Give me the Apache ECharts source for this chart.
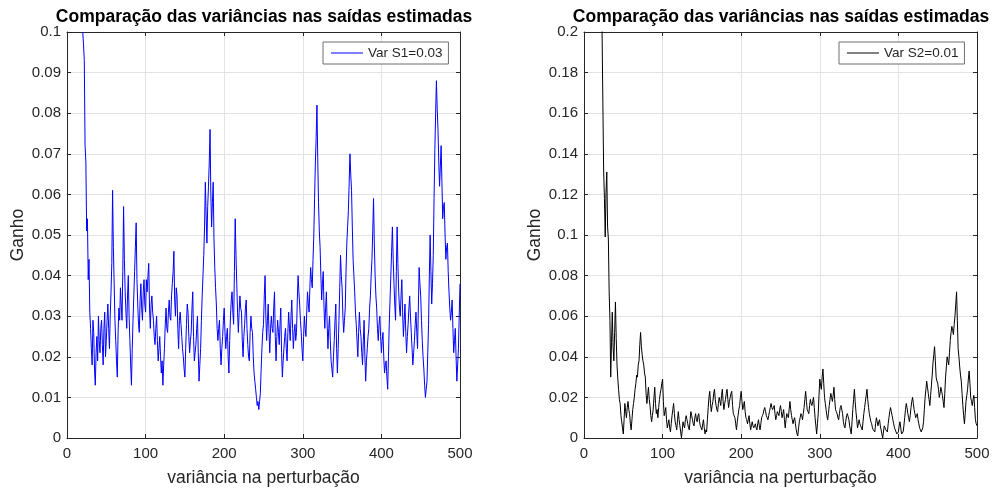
<!DOCTYPE html>
<html>
<head>
<meta charset="utf-8">
<title>Comparação das variâncias</title>
<script src="https://cdn.jsdelivr.net/npm/echarts@6/dist/echarts.min.js"></script>
<style>
  html, body { margin: 0; padding: 0; background: #fff; }
  #chart { width: 997px; height: 493px; }
</style>
</head>
<body>
<div id="chart"></div>
<script>
// eixo x: variância na perturbação (uma amostra por unidade)
var X_STEP = 1;
var S1_START = 20;
var S2_START = 21;
var xTicks = [0, 100, 200, 300, 400, 500];

var titleText = 'Comparação das variâncias nas saídas estimadas';
var xName = 'variância na perturbação';
var yName = 'Ganho';
var legendNames = ['Var S1=0.03', 'Var S2=0.01'];

// ganho estimado, saída 1 (x = 20 ... 500, uma linha a cada 10)
var s1 = [
  0.100, 0.097, 0.093, 0.072, 0.068, 0.051, 0.054, 0.039, 0.044, 0.031,
  0.027, 0.022, 0.018, 0.029, 0.026, 0.017, 0.013, 0.021, 0.025, 0.019,
  0.030, 0.024, 0.021, 0.027, 0.029, 0.023, 0.018, 0.027, 0.031, 0.020,
  0.024, 0.029, 0.033, 0.027, 0.022, 0.030, 0.036, 0.043, 0.061, 0.047,
  0.038, 0.029, 0.024, 0.019, 0.015, 0.026, 0.032, 0.029, 0.037, 0.033,
  0.029, 0.041, 0.057, 0.044, 0.036, 0.031, 0.027, 0.035, 0.040, 0.030,
  0.024, 0.018, 0.013, 0.022, 0.029, 0.035, 0.041, 0.047, 0.053, 0.039,
  0.033, 0.028, 0.026, 0.034, 0.038, 0.032, 0.029, 0.036, 0.039, 0.033,
  0.031, 0.039, 0.036, 0.040, 0.043, 0.032, 0.027, 0.033, 0.035, 0.031,
  0.029, 0.025, 0.023, 0.027, 0.030, 0.024, 0.019, 0.022, 0.025, 0.020,
  0.016, 0.019, 0.013, 0.018, 0.022, 0.028, 0.032, 0.027, 0.026, 0.031,
  0.034, 0.030, 0.029, 0.035, 0.038, 0.041, 0.046, 0.034, 0.030, 0.037,
  0.035, 0.027, 0.022, 0.029, 0.031, 0.028, 0.025, 0.022, 0.020, 0.017,
  0.015, 0.022, 0.028, 0.033, 0.031, 0.025, 0.021, 0.024, 0.026, 0.032,
  0.036, 0.025, 0.019, 0.021, 0.023, 0.027, 0.030, 0.021, 0.014, 0.018,
  0.022, 0.029, 0.035, 0.040, 0.045, 0.052, 0.063, 0.055, 0.048, 0.057,
  0.062, 0.068, 0.076, 0.060, 0.052, 0.058, 0.063, 0.049, 0.042, 0.037,
  0.033, 0.027, 0.024, 0.027, 0.029, 0.022, 0.018, 0.022, 0.025, 0.029,
  0.032, 0.026, 0.022, 0.025, 0.027, 0.020, 0.016, 0.024, 0.030, 0.034,
  0.036, 0.031, 0.028, 0.041, 0.054, 0.045, 0.038, 0.031, 0.026, 0.031,
  0.035, 0.032, 0.031, 0.024, 0.020, 0.025, 0.028, 0.032, 0.034, 0.027,
  0.023, 0.020, 0.019, 0.026, 0.030, 0.027, 0.026, 0.020, 0.016, 0.014,
  0.012, 0.010, 0.008, 0.009, 0.007, 0.009, 0.011, 0.017, 0.022, 0.026,
  0.028, 0.035, 0.040, 0.030, 0.024, 0.029, 0.033, 0.026, 0.021, 0.027,
  0.030, 0.027, 0.026, 0.032, 0.036, 0.025, 0.019, 0.025, 0.029, 0.026,
  0.023, 0.028, 0.032, 0.021, 0.015, 0.019, 0.022, 0.025, 0.027, 0.022,
  0.019, 0.026, 0.031, 0.027, 0.024, 0.030, 0.034, 0.027, 0.022, 0.026,
  0.028, 0.024, 0.026, 0.034, 0.040, 0.036, 0.033, 0.029, 0.026, 0.022,
  0.019, 0.025, 0.030, 0.027, 0.025, 0.031, 0.036, 0.033, 0.031, 0.037,
  0.042, 0.039, 0.037, 0.044, 0.050, 0.059, 0.068, 0.074, 0.082, 0.069,
  0.058, 0.051, 0.047, 0.040, 0.034, 0.038, 0.041, 0.032, 0.027, 0.032,
  0.036, 0.028, 0.022, 0.027, 0.030, 0.024, 0.019, 0.017, 0.015, 0.020,
  0.024, 0.029, 0.033, 0.022, 0.016, 0.022, 0.029, 0.037, 0.045, 0.040,
  0.037, 0.030, 0.026, 0.029, 0.032, 0.041, 0.048, 0.052, 0.056, 0.063,
  0.070, 0.065, 0.061, 0.052, 0.044, 0.040, 0.036, 0.031, 0.028, 0.024,
  0.020, 0.026, 0.031, 0.027, 0.025, 0.021, 0.018, 0.024, 0.029, 0.020,
  0.014, 0.019, 0.022, 0.025, 0.027, 0.032, 0.035, 0.040, 0.044, 0.051,
  0.059, 0.048, 0.040, 0.035, 0.032, 0.027, 0.024, 0.028, 0.030, 0.025,
  0.021, 0.024, 0.026, 0.020, 0.016, 0.018, 0.019, 0.015, 0.012, 0.020,
  0.028, 0.034, 0.040, 0.046, 0.052, 0.044, 0.038, 0.033, 0.029, 0.041,
  0.052, 0.043, 0.036, 0.032, 0.030, 0.035, 0.039, 0.031, 0.025, 0.029,
  0.033, 0.026, 0.021, 0.025, 0.028, 0.032, 0.035, 0.030, 0.026, 0.022,
  0.018, 0.021, 0.024, 0.028, 0.031, 0.026, 0.022, 0.032, 0.042, 0.038,
  0.035, 0.029, 0.024, 0.020, 0.017, 0.013, 0.010, 0.012, 0.014, 0.021,
  0.028, 0.040, 0.050, 0.041, 0.033, 0.038, 0.045, 0.059, 0.071, 0.080,
  0.088, 0.081, 0.076, 0.068, 0.062, 0.067, 0.072, 0.063, 0.054, 0.057,
  0.058, 0.050, 0.044, 0.047, 0.048, 0.041, 0.036, 0.032, 0.029, 0.031,
  0.034, 0.027, 0.021, 0.024, 0.027, 0.020, 0.014, 0.018, 0.022, 0.030,
  0.038
];

// ganho estimado, saída 2 (x = 21 ... 500, uma linha a cada 10)
var s2 = [
  0.215, 0.208, 0.200, 0.165, 0.132, 0.118, 0.099, 0.121, 0.131, 0.104,
  0.098, 0.072, 0.058, 0.030, 0.047, 0.062, 0.045, 0.038, 0.052, 0.067,
  0.049, 0.036, 0.029, 0.024, 0.019, 0.017, 0.011, 0.008, 0.005, 0.002,
  0.009, 0.017, 0.013, 0.010, 0.015, 0.018, 0.014, 0.012, 0.007, 0.004,
  0.009, 0.014, 0.017, 0.020, 0.024, 0.027, 0.031, 0.030, 0.036, 0.038,
  0.046, 0.052, 0.045, 0.041, 0.038, 0.036, 0.032, 0.030, 0.022, 0.017,
  0.021, 0.025, 0.019, 0.016, 0.011, 0.008, 0.011, 0.014, 0.020, 0.025,
  0.017, 0.012, 0.014, 0.010, 0.015, 0.019, 0.022, 0.024, 0.027, 0.029,
  0.018, 0.011, 0.013, 0.015, 0.009, 0.005, 0.007, 0.009, 0.005, 0.003,
  0.007, 0.011, 0.014, 0.017, 0.012, 0.008, 0.006, 0.004, 0.009, 0.013,
  0.009, 0.006, 0.003, 0.000, 0.004, 0.008, 0.006, 0.005, 0.009, 0.011,
  0.009, 0.007, 0.005, 0.004, 0.009, 0.013, 0.011, 0.009, 0.007, 0.006,
  0.010, 0.012, 0.009, 0.008, 0.011, 0.012, 0.008, 0.006, 0.005, 0.004,
  0.007, 0.009, 0.005, 0.002, 0.004, 0.003, 0.009, 0.015, 0.020, 0.023,
  0.017, 0.013, 0.016, 0.018, 0.022, 0.024, 0.019, 0.016, 0.014, 0.013,
  0.017, 0.020, 0.018, 0.016, 0.021, 0.024, 0.018, 0.014, 0.017, 0.019,
  0.022, 0.024, 0.019, 0.015, 0.018, 0.020, 0.022, 0.023, 0.016, 0.012,
  0.011, 0.010, 0.007, 0.004, 0.008, 0.011, 0.014, 0.016, 0.020, 0.023,
  0.018, 0.014, 0.016, 0.018, 0.013, 0.010, 0.009, 0.007, 0.009, 0.011,
  0.007, 0.004, 0.006, 0.008, 0.006, 0.005, 0.006, 0.007, 0.005, 0.004,
  0.007, 0.009, 0.006, 0.004, 0.007, 0.010, 0.011, 0.012, 0.014, 0.015,
  0.013, 0.011, 0.010, 0.009, 0.011, 0.013, 0.015, 0.017, 0.015, 0.014,
  0.015, 0.016, 0.012, 0.009, 0.011, 0.013, 0.012, 0.011, 0.014, 0.016,
  0.013, 0.010, 0.012, 0.014, 0.009, 0.005, 0.009, 0.012, 0.011, 0.010,
  0.014, 0.018, 0.014, 0.011, 0.009, 0.007, 0.009, 0.010, 0.007, 0.004,
  0.002, 0.001, 0.005, 0.008, 0.010, 0.012, 0.011, 0.009, 0.012, 0.015,
  0.019, 0.023, 0.018, 0.014, 0.013, 0.012, 0.016, 0.019, 0.017, 0.016,
  0.018, 0.020, 0.015, 0.010, 0.006, 0.002, 0.007, 0.012, 0.021, 0.029,
  0.026, 0.024, 0.030, 0.034, 0.027, 0.020, 0.017, 0.014, 0.011, 0.009,
  0.012, 0.016, 0.019, 0.022, 0.020, 0.018, 0.021, 0.025, 0.019, 0.014,
  0.013, 0.012, 0.010, 0.009, 0.012, 0.015, 0.016, 0.016, 0.012, 0.008,
  0.006, 0.005, 0.008, 0.011, 0.012, 0.012, 0.009, 0.006, 0.004, 0.002,
  0.008, 0.014, 0.019, 0.024, 0.018, 0.013, 0.009, 0.005, 0.007, 0.009,
  0.007, 0.006, 0.005, 0.004, 0.008, 0.012, 0.015, 0.018, 0.021, 0.024,
  0.019, 0.015, 0.012, 0.010, 0.008, 0.007, 0.005, 0.004, 0.004, 0.003,
  0.007, 0.010, 0.008, 0.006, 0.008, 0.009, 0.006, 0.004, 0.002, 0.000,
  0.003, 0.006, 0.005, 0.004, 0.004, 0.003, 0.007, 0.010, 0.013, 0.015,
  0.013, 0.011, 0.009, 0.007, 0.005, 0.004, 0.003, 0.002, 0.002, 0.003,
  0.006, 0.008, 0.005, 0.002, 0.002, 0.003, 0.006, 0.010, 0.014, 0.017,
  0.015, 0.012, 0.010, 0.008, 0.011, 0.015, 0.018, 0.020, 0.017, 0.014,
  0.012, 0.010, 0.011, 0.012, 0.009, 0.007, 0.005, 0.004, 0.003, 0.003,
  0.005, 0.008, 0.014, 0.020, 0.024, 0.028, 0.025, 0.022, 0.019, 0.016,
  0.021, 0.026, 0.031, 0.037, 0.041, 0.045, 0.038, 0.030, 0.028, 0.027,
  0.024, 0.020, 0.022, 0.025, 0.023, 0.021, 0.018, 0.015, 0.022, 0.030,
  0.035, 0.040, 0.038, 0.036, 0.042, 0.048, 0.052, 0.055, 0.053, 0.051,
  0.056, 0.060, 0.066, 0.072, 0.058, 0.044, 0.040, 0.035, 0.031, 0.028,
  0.022, 0.016, 0.011, 0.007, 0.012, 0.018, 0.021, 0.024, 0.029, 0.033,
  0.027, 0.020, 0.018, 0.016, 0.019, 0.021, 0.015, 0.009, 0.007, 0.006
];

function toPairs(start, values) {
    return values.map(function (v, i) { return [start + i * X_STEP, v]; });
}

var FONT = 'Liberation Sans, Arial, sans-serif';
var AXIS_COLOR = '#262626';
var GRID_COLOR = '#e3e3e3';

function xAxes(gridIndex) {
    return [{
        type: 'value', gridIndex: gridIndex, position: 'bottom',
        min: xTicks[0], max: xTicks[xTicks.length - 1], interval: 100,
        name: xName, nameLocation: 'middle', nameGap: 31,
        nameTextStyle: { fontFamily: FONT, fontSize: 17.5, color: AXIS_COLOR },
        axisLine: { show: true, onZero: false, lineStyle: { color: AXIS_COLOR, width: 1 } },
        axisTick: { show: true, inside: true, length: 4, lineStyle: { color: AXIS_COLOR } },
        axisLabel: { margin: 8, fontFamily: FONT, fontSize: 15, color: AXIS_COLOR },
        splitLine: { show: true, lineStyle: { color: GRID_COLOR, width: 1 } }
    }, {
        type: 'value', gridIndex: gridIndex, position: 'top',
        min: xTicks[0], max: xTicks[xTicks.length - 1], interval: 100,
        axisLine: { show: true, onZero: false, lineStyle: { color: AXIS_COLOR, width: 1 } },
        axisTick: { show: true, inside: true, length: 4, lineStyle: { color: AXIS_COLOR } },
        axisLabel: { show: false },
        splitLine: { show: false }
    }];
}

function yAxes(gridIndex, max, step) {
    return [{
        type: 'value', gridIndex: gridIndex, position: 'left',
        min: 0, max: max, interval: step,
        name: yName, nameLocation: 'middle', nameGap: 40,
        nameTextStyle: { fontFamily: FONT, fontSize: 17.5, color: AXIS_COLOR },
        axisLine: { show: true, onZero: false, lineStyle: { color: AXIS_COLOR, width: 1 } },
        axisTick: { show: true, inside: true, length: 4, lineStyle: { color: AXIS_COLOR } },
        axisLabel: { margin: 6, fontFamily: FONT, fontSize: 15, color: AXIS_COLOR },
        splitLine: { show: true, lineStyle: { color: GRID_COLOR, width: 1 } }
    }, {
        type: 'value', gridIndex: gridIndex, position: 'right',
        min: 0, max: max, interval: step,
        axisLine: { show: true, onZero: false, lineStyle: { color: AXIS_COLOR, width: 1 } },
        axisTick: { show: true, inside: true, length: 4, lineStyle: { color: AXIS_COLOR } },
        axisLabel: { show: false },
        splitLine: { show: false }
    }];
}

function legendAt(left, name) {
    return {
        data: [{ name: name, icon: 'rect' }], left: left, top: 42, orient: 'horizontal',
        padding: [4, 6, 4, 8], itemWidth: 32, itemHeight: 1, itemGap: 5,
        backgroundColor: '#fff', borderColor: '#6e6e6e', borderWidth: 1, borderRadius: 0,
        textStyle: { fontFamily: FONT, fontSize: 13.5, color: AXIS_COLOR }
    };
}

var option = {
    animation: false,
    backgroundColor: '#fff',
    title: [{
        text: titleText, left: 264, top: 8, textAlign: 'center', padding: 0,
        textStyle: { fontFamily: FONT, fontSize: 17.5, fontWeight: 'bold', color: '#000' }
    }, {
        text: titleText, left: 781, top: 8, textAlign: 'center', padding: 0,
        textStyle: { fontFamily: FONT, fontSize: 17.5, fontWeight: 'bold', color: '#000' }
    }],
    legend: [legendAt(323, legendNames[0]), legendAt(839, legendNames[1])],
    grid: [
        { left: 67, top: 32, width: 393, height: 406, containLabel: false },
        { left: 584, top: 32, width: 393, height: 406, containLabel: false }
    ],
    xAxis: xAxes(0).concat(xAxes(1)),
    yAxis: yAxes(0, 0.1, 0.01).concat(yAxes(1, 0.2, 0.02)),
    series: [{
        name: legendNames[0], type: 'line', xAxisIndex: 0, yAxisIndex: 0,
        data: toPairs(S1_START, s1), symbol: 'none', clip: true,
        lineStyle: { color: '#0000ff', width: 1 }, itemStyle: { color: '#0000ff' }
    }, {
        name: legendNames[1], type: 'line', xAxisIndex: 2, yAxisIndex: 2,
        data: toPairs(S2_START, s2), symbol: 'none', clip: true,
        lineStyle: { color: '#000', width: 1 }, itemStyle: { color: '#000' }
    }]
};

var myChart = echarts.init(document.getElementById('chart'));
myChart.setOption(option);
</script>
</body>
</html>
